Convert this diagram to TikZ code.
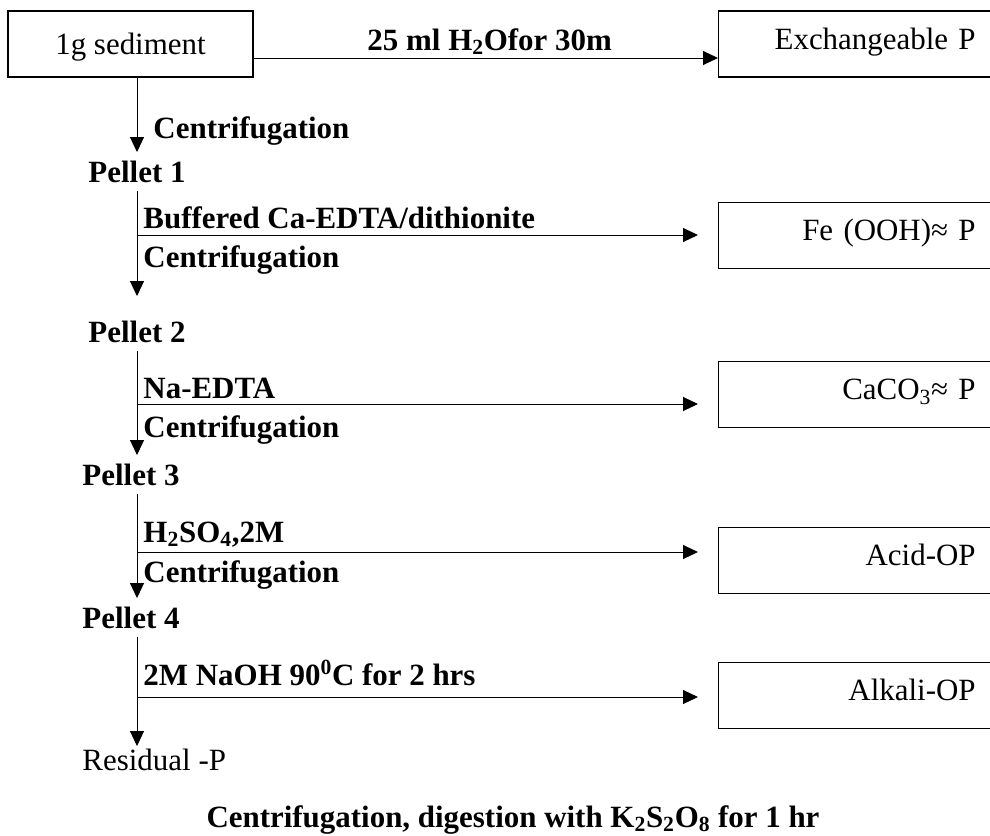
\documentclass[tikz,border=0pt]{standalone}
\usepackage{fontspec}
\setmainfont{Liberation Serif}
\usetikzlibrary{arrows.meta,positioning}

\tikzset{
	txt/.style={font=\fontsize{22}{26}\selectfont, inner sep=0pt},
	lbl/.style={txt, font=\fontsize{22}{26}\selectfont\bfseries, anchor=base west},
	pellet/.style={lbl, inner ysep=0.2cm},
	fraction/.style={draw, line width=0.8pt, anchor=west, font=\fontsize{22}{26}\selectfont,
		minimum height=1.65cm, minimum width=7.3cm, text width=5.55cm, inner xsep=0.875cm,
		align=right, text height=15.2pt, text depth=7.8pt},
}

\begin{document}
\begin{tikzpicture}[x=0.025cm, y=-0.025cm, line width=0.7pt,
	>={Triangle[length=0.375cm,width=0.35cm]}]
			\useasboundingbox (0,0) rectangle (990,835);
			\coordinate (spine) at (137,0);
			% sample and fractions
			\node[draw, line width=0.8pt, font=\fontsize{22}{26}\selectfont, minimum width=6.125cm,
				minimum height=1.65cm, text height=14.6pt, text depth=0pt] (sed) at (130.5,44) {1g sediment};
			\node[fraction] (exch) at (718,44) {Exchangeable P};
			\node[fraction] (fe) at (718,235.5) {Fe (OOH)≈ P};
			\node[fraction] (caco) at (718,394.5) {CaCO\textsubscript{3}≈ P};
			\node[fraction] (acid) at (718,560.5) {Acid-OP};
			\node[fraction] (alk) at (718,695.5) {Alkali-OP};
			% pellets
			\node[pellet] (p1) at (88,182) {Pellet 1};
			\node[pellet] (p2) at (88,342) {Pellet 2};
			\node[pellet] (p3) at (82,485) {Pellet 3};
			\node[pellet] (p4) at (82,628) {Pellet 4};
			\node[txt, anchor=base west, inner ysep=0.05cm] (res) at (82,770) {Residual -P};
			% reagents
			\node[lbl] (w0) at (367,50) {25 ml H\textsubscript{2}Ofor 30m};
			\node[lbl] (c0) at (153,138) {Centrifugation};
			\node[lbl] (r1) at (143,228) {Buffered Ca-EDTA/dithionite};
			\node[lbl] (c1) at (143,267) {Centrifugation};
			\node[lbl] (r2) at (143,398) {Na-EDTA};
			\node[lbl] (c2) at (143,437) {Centrifugation};
			\node[lbl] (r3) at (143,542) {H\textsubscript{2}SO\textsubscript{4},2M};
			\node[lbl] (c3) at (143,582) {Centrifugation};
			\node[lbl] (r4) at (143,685) {2M NaOH 90\textsuperscript{0}C for 2 hrs};
			\node[lbl, anchor=base] (dig) at (513,827) {Centrifugation, digestion with K\textsubscript{2}S\textsubscript{2}O\textsubscript{8} for 1 hr};
			% main line
			\draw[->] (sed.south -| spine) -- (p1.north -| spine);
			\draw[->, shorten >=0.4cm] (p1.south -| spine) -- (p2.north -| spine);
			\draw[->] (p2.south -| spine) -- (p3.north -| spine);
			\draw[->] (p3.south -| spine) -- (p4.north -| spine);
			\draw[->] (p4.south -| spine) -- (res.north -| spine);
			% branches
			\coordinate (b0) at (253,58);
			\coordinate (b1) at (137,235);
			\coordinate (b2) at (137,404);
			\coordinate (b3) at (137,552);
			\coordinate (b4) at (137,697);
			\draw[->] (b0) -- (b0 -| exch.west);
			\draw[->, shorten >=0.5cm] (b1) -- (b1 -| fe.west);
			\draw[->, shorten >=0.5cm] (b2) -- (b2 -| caco.west);
			\draw[->, shorten >=0.5cm] (b3) -- (b3 -| acid.west);
			\draw[->, shorten >=0.5cm] (b4) -- (b4 -| alk.west);
\end{tikzpicture}
\end{document}
